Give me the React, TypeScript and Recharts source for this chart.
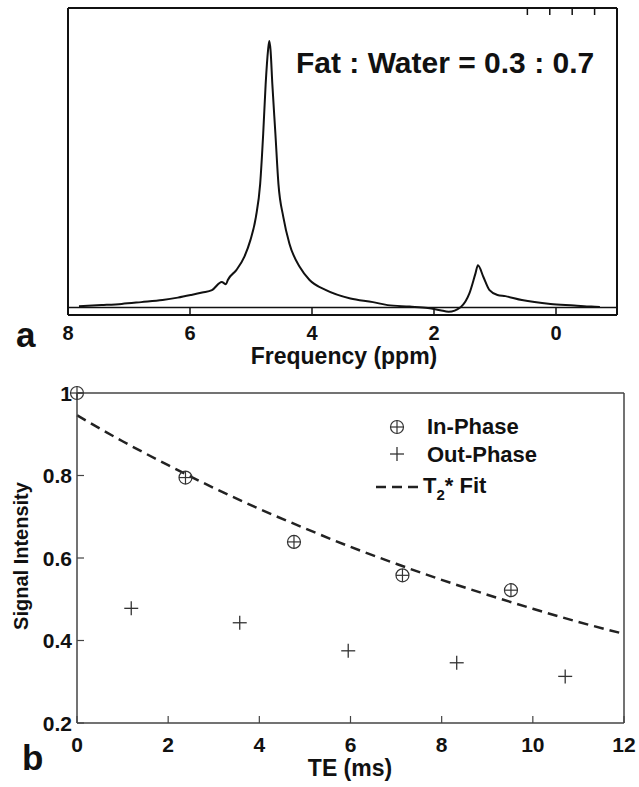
import { LineChart, ComposedChart, Line, Scatter, XAxis, YAxis, ReferenceLine } from "recharts"

const FONT = '"Liberation Sans", Arial, Helvetica, sans-serif'

// (a) spectrum (ppm, arbitrary intensity)
const ppm = [
  7.82, 7.45, 7.12, 6.8, 6.45, 6.2, 5.98, 5.8, 5.64, 5.48, 5.41, 5.38, 5.24, 5.11, 5.01,
  4.92, 4.85, 4.8, 4.76, 4.72, 4.7, 4.68, 4.65, 4.6, 4.55, 4.47, 4.37, 4.2, 4.04, 3.77,
  3.37, 3.0, 2.76, 2.4, 2.1, 1.9, 1.76, 1.56, 1.42, 1.32, 1.28, 1.19, 1.09, 0.96, 0.83,
  0.56, 0.09, -0.3, -0.58, -0.72,
]
const amplitude = [
  0.4, 0.8, 1.2, 1.8, 2.5, 3.3, 4.2, 5.0, 5.8, 8.5, 7.8, 9.2, 12.5, 16.9, 22.5,
  30.2, 41.2, 58, 74.5, 86, 89, 86, 74.5, 58, 41.2, 30.2, 21.3, 13.5, 9.2, 5.8,
  3.0, 1.8, 0.8, 0.3, -0.2, -0.9, -1.4, 0.2, 4.7, 11.4, 14.1, 10.2, 5.8, 4.2, 3.8,
  2.5, 1.2, 0.7, 0.3, 0.2,
]
const ppmTicks = [8, 6, 4, 2, 0]

// (b) signal intensity vs TE
const inPhaseTE = [0, 2.38, 4.76, 7.14, 9.52]
const inPhaseSI = [1.0, 0.795, 0.639, 0.558, 0.522]
const outPhaseTE = [1.19, 3.57, 5.95, 8.33, 10.71]
const outPhaseSI = [0.478, 0.443, 0.375, 0.346, 0.313]
const fitTE = [0, 1, 2, 3, 4, 5, 6, 7, 8, 9, 10, 11, 12]
const fitSI = [0.946, 0.883, 0.825, 0.77, 0.719, 0.672, 0.627, 0.586, 0.547, 0.511, 0.477, 0.445, 0.416]
const teTicks = [0, 2, 4, 6, 8, 10, 12]
const siTicks = [0.2, 0.4, 0.6, 0.8, 1]
const siLabels = ["0.2", "0.4", "0.6", "0.8", "1"]

const spectrum = ppm.map((p, i) => ({ ppm: p, amp: amplitude[i] }))
const inPhase = inPhaseTE.map((t, i) => ({ te: t, si: inPhaseSI[i] }))
const outPhase = outPhaseTE.map((t, i) => ({ te: t, si: outPhaseSI[i] }))
const fit = fitTE.map((t, i) => ({ te: t, si: fitSI[i] }))

const INK = "#111"
const GREY = "#444"

function SpecBottomTick(props: any) {
  const { x, y, payload } = props
  return (
    <g>
      <line x1={x} y1={y} x2={x} y2={y - 7} stroke={INK} strokeWidth={1.5} />
      <text x={x} y={y + 25} textAnchor="middle" fontFamily={FONT} fontWeight="bold" fontSize={20} fill={INK}>
        {payload.value}
      </text>
    </g>
  )
}

function SpecTopTick(props: any) {
  const { x, y } = props
  return <line x1={x} y1={y} x2={x} y2={y + 7} stroke={INK} strokeWidth={1.5} />
}

function TeBottomTick(props: any) {
  const { x, y, payload } = props
  return (
    <g>
      <line x1={x} y1={y} x2={x} y2={y - 7} stroke={GREY} strokeWidth={1.2} />
      <text x={x} y={y + 29} textAnchor="middle" fontFamily={FONT} fontWeight="bold" fontSize={21} fill={INK}>
        {payload.value}
      </text>
    </g>
  )
}

function TeTopTick(props: any) {
  const { x, y } = props
  return <line x1={x} y1={y} x2={x} y2={y + 7} stroke={GREY} strokeWidth={1.2} />
}

function SiLeftTick(props: any) {
  const { x, y, payload } = props
  const i = siTicks.indexOf(payload.value)
  return (
    <g>
      <line x1={x} y1={y} x2={x + 7} y2={y} stroke={GREY} strokeWidth={1.2} />
      <text x={x - 5} y={y + 7.5} textAnchor="end" fontFamily={FONT} fontWeight="bold" fontSize={21} fill={INK}>
        {i >= 0 ? siLabels[i] : payload.value}
      </text>
    </g>
  )
}

function SiRightTick(props: any) {
  const { x, y } = props
  return <line x1={x} y1={y} x2={x - 7} y2={y} stroke={GREY} strokeWidth={1.2} />
}

function InPhaseMark(props: any) {
  const { cx, cy } = props
  return (
    <g stroke="#333" strokeWidth={1.2} fill="none">
      <circle cx={cx} cy={cy} r={6.5} />
      <line x1={cx - 6.5} y1={cy} x2={cx + 6.5} y2={cy} />
      <line x1={cx} y1={cy - 6.5} x2={cx} y2={cy + 6.5} />
    </g>
  )
}

function OutPhaseMark(props: any) {
  const { cx, cy } = props
  return (
    <g stroke="#333" strokeWidth={1.3}>
      <line x1={cx - 7} y1={cy} x2={cx + 7} y2={cy} />
      <line x1={cx} y1={cy - 7} x2={cx} y2={cy + 7} />
    </g>
  )
}

function SpectrumPanel() {
  return (
    <LineChart width={639} height={380} data={spectrum} margin={{ top: 7, right: 21, left: 67, bottom: 64 }}>
      <XAxis
        type="number"
        dataKey="ppm"
        domain={[-1, 8]}
        reversed
        allowDataOverflow
        ticks={ppmTicks}
        height={1}
        tickSize={0}
        tickMargin={0}
        tickLine={false}
        axisLine={{ stroke: INK, strokeWidth: 2 }}
        tick={SpecBottomTick}
      />
      <XAxis
        xAxisId="top"
        orientation="top"
        type="number"
        domain={[-1, 8]}
        reversed
        allowDataOverflow
        ticks={ppmTicks}
        height={1}
        tickSize={0}
        tickMargin={0}
        tickLine={false}
        axisLine={{ stroke: INK, strokeWidth: 2 }}
        tick={SpecTopTick}
      />
      <YAxis
        type="number"
        domain={[-2.5, 100]}
        allowDataOverflow
        width={1}
        tick={false}
        tickLine={false}
        axisLine={{ stroke: INK, strokeWidth: 2 }}
      />
      <YAxis
        yAxisId="right"
        orientation="right"
        type="number"
        domain={[-2.5, 100]}
        width={1}
        tick={false}
        tickLine={false}
        axisLine={{ stroke: INK, strokeWidth: 2 }}
      />
      <ReferenceLine y={0} stroke={INK} strokeWidth={1.5} />
      <Line type="monotone" dataKey="amp" stroke={INK} strokeWidth={2} dot={false} isAnimationActive={false} />
      <text x={296} y={73} fontFamily={FONT} fontWeight="bold" fontSize={30} fill={INK}>
        Fat : Water = 0.3 : 0.7
      </text>
      <text x={344} y={364} textAnchor="middle" fontFamily={FONT} fontWeight="bold" fontSize={23} fill={INK}>
        Frequency (ppm)
      </text>
      <text x={16} y={347} fontFamily={FONT} fontWeight="bold" fontSize={35} fill={INK}>
        a
      </text>
    </LineChart>
  )
}

function DecayPanel() {
  return (
    <ComposedChart width={639} height={407} margin={{ top: 12, right: 14, left: 76, bottom: 63 }}>
      <XAxis
        type="number"
        dataKey="te"
        domain={[0, 12]}
        ticks={teTicks}
        height={1}
        tickSize={0}
        tickMargin={0}
        tickLine={false}
        axisLine={{ stroke: GREY, strokeWidth: 1.5 }}
        tick={TeBottomTick}
      />
      <XAxis
        xAxisId="top"
        orientation="top"
        type="number"
        domain={[0, 12]}
        ticks={teTicks}
        height={1}
        tickSize={0}
        tickMargin={0}
        tickLine={false}
        axisLine={{ stroke: GREY, strokeWidth: 1.5 }}
        tick={TeTopTick}
      />
      <YAxis
        type="number"
        dataKey="si"
        domain={[0.2, 1]}
        ticks={siTicks}
        width={1}
        tickSize={0}
        tickMargin={0}
        tickLine={false}
        axisLine={{ stroke: GREY, strokeWidth: 1.5 }}
        tick={SiLeftTick}
      />
      <YAxis
        yAxisId="right"
        orientation="right"
        type="number"
        domain={[0.2, 1]}
        ticks={siTicks}
        width={1}
        tickSize={0}
        tickMargin={0}
        tickLine={false}
        axisLine={{ stroke: GREY, strokeWidth: 1.5 }}
        tick={SiRightTick}
      />
      <Line
        data={fit}
        type="monotone"
        dataKey="si"
        stroke="#222"
        strokeWidth={2.5}
        strokeDasharray="10 6"
        dot={false}
        isAnimationActive={false}
      />
      <Scatter data={inPhase} dataKey="si" shape={InPhaseMark} isAnimationActive={false} />
      <Scatter data={outPhase} dataKey="si" shape={OutPhaseMark} isAnimationActive={false} />

      <g fontFamily={FONT} fontWeight="bold" fill={INK}>
        <InPhaseMark cx={397} cy={47} />
        <text x={427} y={54} fontSize={22}>In-Phase</text>
        <OutPhaseMark cx={397} cy={74} />
        <text x={427} y={82} fontSize={22}>Out-Phase</text>
        <line x1={376} y1={107} x2={423} y2={107} stroke="#222" strokeWidth={2.5} strokeDasharray="10 6" />
        <text x={423} y={113} fontSize={22}>
          T<tspan fontSize={15} dy={7}>2</tspan>
          <tspan dy={-7}>* Fit</tspan>
        </text>
        <text x={350} y={396} textAnchor="middle" fontSize={23}>TE (ms)</text>
        <text x={22} y={390} fontSize={35}>b</text>
        <text
          x={21}
          y={176}
          transform="rotate(-90, 21, 176)"
          textAnchor="middle"
          dominantBaseline="central"
          fontSize={20}
        >
          Signal Intensity
        </text>
      </g>
    </ComposedChart>
  )
}

export default function App() {
  return (
    <div style={{ position: "absolute", left: 0, top: 0, width: 639, height: 787, background: "#fff" }}>
      <div style={{ position: "absolute", left: 0, top: 0 }}>
        <SpectrumPanel />
      </div>
      <div style={{ position: "absolute", left: 0, top: 380 }}>
        <DecayPanel />
      </div>
    </div>
  )
}
